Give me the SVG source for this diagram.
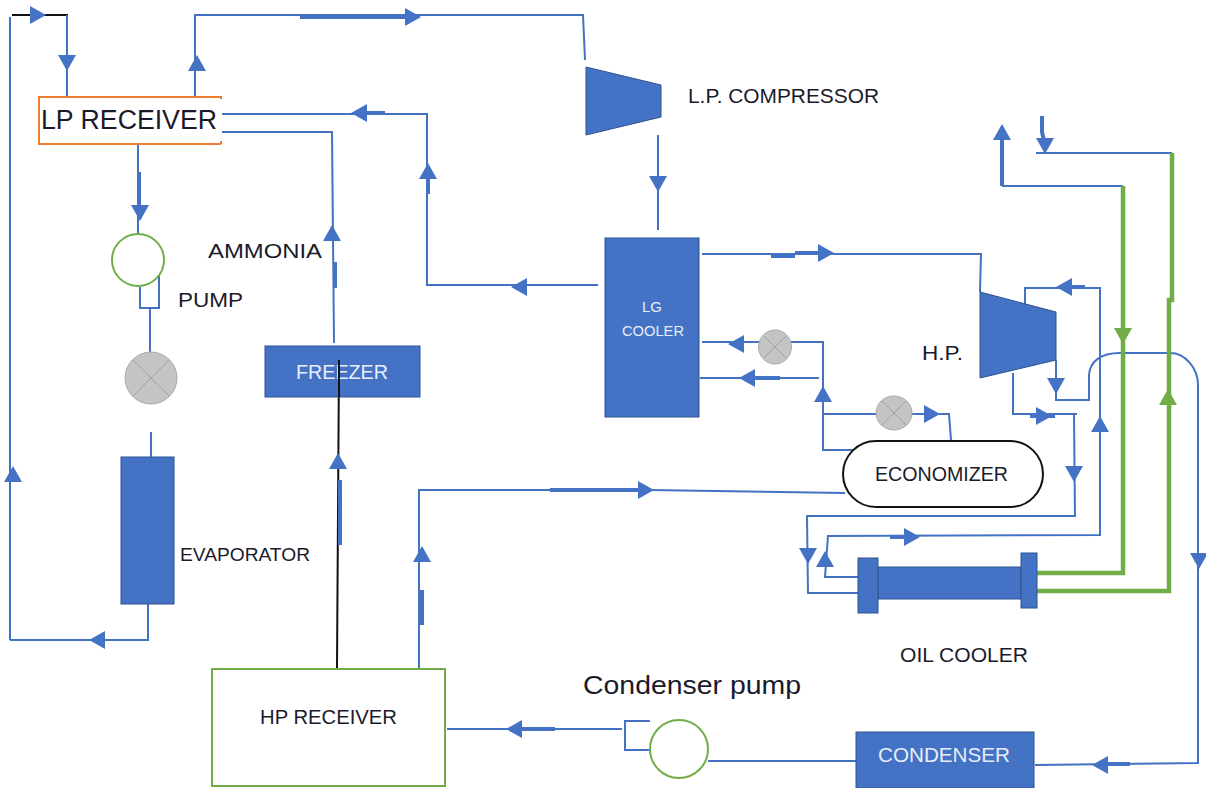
<svg xmlns="http://www.w3.org/2000/svg" width="1206" height="788" viewBox="0 0 1206 788">
<style>
.p{fill:none;stroke:#4472c4;stroke-width:2}
.t{fill:none;stroke:#4472c4;stroke-width:4}
.g{fill:none;stroke:#70ad47;stroke-width:4.5}
.k{fill:none;stroke:#111;stroke-width:2}
.b{fill:#4472c4;stroke:#2f528f;stroke-width:1}
.v{fill:#c4c4c4;stroke:#aaa;stroke-width:1}
.x{stroke:#a0a0a0;stroke-width:1}
text{font-family:"Liberation Sans",Arial,sans-serif;fill:#1a1a2a;font-size:20px}
.w{fill:#e8eefa}
</style>
<defs>
<polygon id="a" points="-7,-9 9,0 -7,9" fill="#4472c4"/>
<polygon id="ag" points="-7,-9 9,0 -7,9" fill="#70ad47"/>
</defs>
<g id="connectors">
<path class="p" d="M10 640V17"/><path class="k" d="M12 15H68"/><path class="p" d="M67 15V96"/>
<path class="p" d="M195 96V15H583L585 60"/><path class="t" d="M300 17H412"/>
<path class="p" d="M222 114H427V285H598"/><path class="t" d="M360 113H385"/><path class="p" d="M222 132H332L334 343"/><path class="t" d="M335 262V288"/><path class="t" d="M428 175V194"/>
<path class="p" d="M138 144V236"/><path class="t" d="M139 172V212"/>
<path class="p" d="M140 287V308H159V272M150 308V355M151 432V457M148 604V640H10"/>
<path class="k" d="M339 360L337 668"/><path class="t" d="M340 480V545"/>
<path class="p" d="M419 669V490H650L845 493"/><path class="t" d="M550 490H640"/><path class="t" d="M422 590V625"/>
<path class="p" d="M447 729H622M650 721H625V750H650M708 761H856"/><path class="t" d="M515 729H555"/>
<path class="p" d="M1035 765L1198 763V385C1198 368 1185 353 1170 353H1120C1100 353 1090 362 1089 375V400H1056V360"/><path class="t" d="M1101 764H1130"/>
<path class="p" d="M658 135V230M702 254H981L980 292"/><path class="t" d="M771 256H795M795 253H825"/>
<path class="p" d="M702 342H760M791 342H823V450H861M700 378H819M823 414H877M911 414H949L951 440"/><path class="t" d="M750 378H780"/>
<path class="p" d="M1013 373V414H1077M1074 414L1075 516H807L808 593H859"/><path class="t" d="M1030 416H1055"/>
<path class="p" d="M1025 305V288H1100V535L828 536L825 577H859"/><path class="t" d="M1065 287H1085M890 537H911"/>
<path class="p" d="M1036 153H1172M1002 186H1123"/><path class="t" d="M1002 130V186M1042 116V132L1045 145"/>
<path class="g" d="M1123 186V573H1037M1172 153V300H1169V591H1037"/>
<use href="#a" transform="translate(37 15)"/><use href="#a" transform="translate(67 62) rotate(90)"/>
<use href="#a" transform="translate(197 64) rotate(-90)"/><use href="#a" transform="translate(412 17)"/>
<use href="#a" transform="translate(360 113) rotate(180)"/><use href="#a" transform="translate(428 172) rotate(-90)"/>
<use href="#a" transform="translate(332 234) rotate(-90)"/><use href="#a" transform="translate(520 287) rotate(180)"/>
<use href="#a" transform="translate(140 212) rotate(90)"/><use href="#a" transform="translate(98 640) rotate(180)"/>
<use href="#a" transform="translate(13 475) rotate(-90)"/><use href="#a" transform="translate(338 462) rotate(-90)"/>
<use href="#a" transform="translate(422 555) rotate(-90)"/><use href="#a" transform="translate(645 490)"/>
<use href="#a" transform="translate(515 729) rotate(180)"/><use href="#a" transform="translate(1101 765) rotate(180)"/>
<use href="#a" transform="translate(1199 560) rotate(90)"/><use href="#a" transform="translate(658 183) rotate(90)"/>
<use href="#a" transform="translate(825 253)"/><use href="#a" transform="translate(737 344) rotate(180)"/>
<use href="#a" transform="translate(748 378) rotate(180)"/><use href="#a" transform="translate(823 395) rotate(-90)"/>
<use href="#a" transform="translate(931 414)"/><use href="#a" transform="translate(1043 416)"/>
<use href="#a" transform="translate(1074 473) rotate(90)"/><use href="#a" transform="translate(808 555) rotate(90)"/>
<use href="#a" transform="translate(1100 425) rotate(-90)"/><use href="#a" transform="translate(911 537)"/>
<use href="#a" transform="translate(825 560) rotate(-90)"/><use href="#a" transform="translate(1065 287) rotate(180)"/>
<use href="#a" transform="translate(1056 385) rotate(90)"/><use href="#a" transform="translate(1002 133) rotate(-90)"/>
<use href="#a" transform="translate(1045 145) rotate(90)"/><use href="#ag" transform="translate(1123 335) rotate(90)"/>
<use href="#ag" transform="translate(1168 398) rotate(-90)"/>
</g>
<g id="lp-receiver"><path d="M221 97H39V144H221" fill="#fff" stroke="#ed7d31" stroke-width="2"/><path d="M221 96v3M221 141v3" stroke="#ed7d31" stroke-width="2"/><text x="41" y="129" textLength="176" lengthAdjust="spacingAndGlyphs" style="font-size:27px">LP RECEIVER</text></g>
<g id="pump"><circle cx="138" cy="260" r="26" fill="#fff" stroke="#70ad47" stroke-width="2"/><text x="178" y="307" textLength="65" lengthAdjust="spacingAndGlyphs">PUMP</text></g>
<g id="ammonia-label"><text x="208" y="258" textLength="114" lengthAdjust="spacingAndGlyphs">AMMONIA</text></g>
<g id="valve-1"><circle class="v" cx="151" cy="378" r="26"/><path class="x" d="M133 360L169 396M169 360L133 396"/></g>
<g id="evaporator"><rect class="b" x="121" y="457" width="53" height="147"/><text x="180" y="561" textLength="130" lengthAdjust="spacingAndGlyphs" style="font-size:18px">EVAPORATOR</text></g>
<g id="freezer"><rect class="b" x="265" y="346" width="155" height="51"/><text class="w" x="296" y="379" textLength="92" lengthAdjust="spacingAndGlyphs">FREEZER</text></g>
<g id="black-line"><path class="k" d="M339 360V397"/></g>
<g id="hp-receiver"><rect x="212" y="669" width="233" height="117" fill="#fff" stroke="#70ad47" stroke-width="2"/><text x="260" y="724" textLength="137" lengthAdjust="spacingAndGlyphs">HP RECEIVER</text></g>
<g id="condenser-pump"><circle cx="679" cy="749" r="29" fill="#fff" stroke="#70ad47" stroke-width="2"/><text x="583" y="694" textLength="218" lengthAdjust="spacingAndGlyphs" style="font-size:25px">Condenser pump</text></g>
<g id="condenser"><rect class="b" x="856" y="732" width="178" height="56"/><text class="w" x="878" y="762" textLength="132" lengthAdjust="spacingAndGlyphs">CONDENSER</text></g>
<g id="lp-compressor"><polygon class="b" points="586,67 661,85 661,117 586,135"/><text x="688" y="103" textLength="191" lengthAdjust="spacingAndGlyphs">L.P. COMPRESSOR</text></g>
<g id="lg-cooler"><rect class="b" x="605" y="238" width="94" height="179"/><text class="w" x="642" y="312" textLength="20" lengthAdjust="spacingAndGlyphs" style="font-size:15px">LG</text><text class="w" x="622" y="336" textLength="62" lengthAdjust="spacingAndGlyphs" style="font-size:15px">COOLER</text></g>
<g id="valve-2"><ellipse class="v" cx="775" cy="347" rx="16.5" ry="17"/><path class="x" d="M764 336L786 358M786 336L764 358"/></g>
<g id="valve-3"><ellipse class="v" cx="894" cy="413" rx="18" ry="17"/><path class="x" d="M882 401L906 425M906 401L882 425"/></g>
<g id="hp-compressor"><polygon class="b" points="980,292 1056,312 1056,360 980,378"/><text x="922" y="360" textLength="41" lengthAdjust="spacingAndGlyphs">H.P.</text></g>
<g id="economizer"><rect x="843" y="441" width="200" height="66" rx="33" fill="#fff" stroke="#111" stroke-width="2"/><text x="875" y="481" textLength="133" lengthAdjust="spacingAndGlyphs">ECONOMIZER</text></g>
<g id="oil-cooler"><rect class="b" x="878" y="567" width="143" height="32"/><rect class="b" x="858" y="558" width="20" height="55"/><rect class="b" x="1021" y="553" width="16" height="55"/><text x="900" y="662" textLength="128" lengthAdjust="spacingAndGlyphs">OIL COOLER</text></g>
</svg>
